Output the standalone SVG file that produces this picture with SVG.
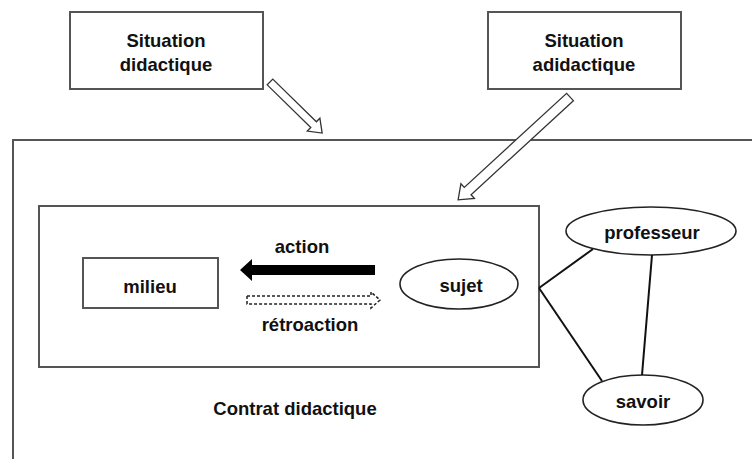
<svg xmlns="http://www.w3.org/2000/svg" width="752" height="459" viewBox="0 0 752 459">
<style>
.box{fill:#fff;stroke:#555;stroke-width:2}
.ell{fill:#fff;stroke:#222;stroke-width:1.6}
.t{font-family:"Liberation Sans",Arial,sans-serif;font-weight:bold;font-size:18.5px;fill:#111;text-anchor:middle}
.hollow{fill:#fff;stroke:#333;stroke-width:1.3}
.link{stroke:#111;stroke-width:2;fill:none}
</style>
<rect width="752" height="459" fill="#fff"/>
<g id="contrat">
<path d="M13,459 V140 H752" fill="none" stroke="#555" stroke-width="2"/>
<text class="t" x="295" y="415">Contrat didactique</text>
</g>
<g id="inner">
<rect class="box" x="39" y="206" width="500" height="161"/>
</g>
<g id="sit-didactique">
<rect class="box" x="70" y="12" width="193" height="77"/>
<text class="t" x="166" y="47">Situation</text>
<text class="t" x="166" y="71">didactique</text>
</g>
<g id="sit-adidactique">
<rect class="box" x="488" y="12" width="193" height="77"/>
<text class="t" x="584" y="47">Situation</text>
<text class="t" x="584" y="71">adidactique</text>
</g>
<g id="milieu">
<rect class="box" x="83" y="258" width="135" height="50"/>
<text class="t" x="150" y="293">milieu</text>
</g>
<g id="sujet">
<ellipse class="ell" cx="459" cy="284" rx="59" ry="25"/>
<text class="t" x="461" y="292">sujet</text>
</g>
<g id="professeur">
<ellipse class="ell" cx="651" cy="231" rx="85" ry="24"/>
<text class="t" x="652" y="239">professeur</text>
</g>
<g id="savoir">
<ellipse class="ell" cx="643" cy="400" rx="60" ry="25"/>
<text class="t" x="643" y="408">savoir</text>
</g>
<g id="connectors">
<polygon class="hollow" transform="translate(270,82) rotate(44.4)" points="0,-4 61,-4 61,-9 73,0 61,9 61,4 0,4"/>
<polygon class="hollow" transform="translate(570,97) rotate(137.4)" points="0,-5 139,-5 139,-10 152,0 139,10 139,5 0,5"/>
<polygon fill="#000" points="375,265 252,265 252,259 240,270 252,281 252,275 375,275"/>
<polygon fill="#fff" stroke="#222" stroke-width="1.5" stroke-dasharray="3,2" points="247,296 371,296 371,292 380,300 371,308 371,304 247,304"/>
<line class="link" x1="539" y1="288" x2="593" y2="249"/>
<line class="link" x1="539" y1="288" x2="602" y2="381"/>
<line class="link" x1="652" y1="255" x2="642" y2="375"/>
<text class="t" x="302" y="253">action</text>
<text class="t" x="310" y="331">rétroaction</text>
</g>
</svg>
